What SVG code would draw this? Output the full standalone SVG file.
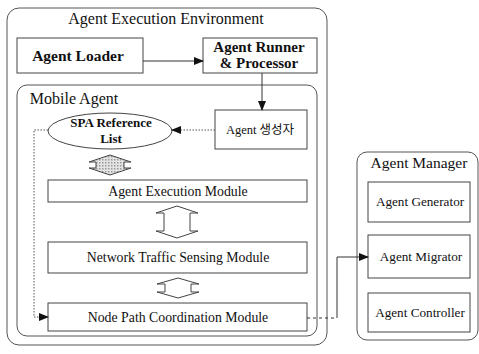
<svg xmlns="http://www.w3.org/2000/svg" width="479" height="354" viewBox="0 0 479 354">
<defs>
<style>
.box{fill:#fff;stroke:#444;stroke-width:1}
.cont{fill:none;stroke:#555;stroke-width:1}
.t{font-family:"Liberation Serif","Times New Roman","Noto Sans CJK KR",serif;fill:#111;text-anchor:middle}
.big{font-size:16px}
.b{font-weight:bold}
.mid{font-size:13.8px}
.sm{font-size:13.2px}
.ln{fill:none;stroke:#333;stroke-width:1}
.dot{fill:none;stroke:#555;stroke-width:1;stroke-dasharray:1.5 1.5}
.dash{fill:none;stroke:#333;stroke-width:1;stroke-dasharray:3 3}
.dbl{stroke:#444;stroke-width:1}
</style>
<marker id="ah" markerWidth="10" markerHeight="8" refX="9" refY="4" orient="auto" markerUnits="userSpaceOnUse">
<path d="M0,0 L10,4 L0,8 Z" fill="#111"/>
</marker>
<pattern id="dots" width="3" height="3" patternUnits="userSpaceOnUse">
<rect width="3" height="3" fill="#e4e4e4"/>
<rect width="1.5" height="1.5" fill="#999"/>
</pattern>
</defs>

<g id="env">
<rect class="cont" x="7" y="8" width="320" height="337" rx="12"/>
<text class="t big" x="166" y="24">Agent Execution Environment</text>
</g>

<g id="agent-loader">
<rect class="box" x="17" y="38" width="126" height="35"/>
<text class="t b" style="font-size:15.5px" x="78" y="61">Agent Loader</text>
</g>

<g id="agent-runner">
<rect class="box" x="203" y="38" width="114" height="35"/>
<text class="t b" style="font-size:15px" x="259" y="52">Agent Runner</text>
<text class="t b" style="font-size:15px" x="259" y="68">&amp; Processor</text>
</g>

<g id="mobile-agent">
<rect class="cont" x="17" y="85" width="300" height="251" rx="10"/>
<text class="t big" x="74" y="104">Mobile Agent</text>
</g>

<g id="agent-creator">
<rect class="box" x="215" y="110" width="92" height="39"/>
<text class="t" style="font-size:12.5px" x="260" y="134">Agent 생성자</text>
</g>

<g id="spa-list">
<ellipse class="box" cx="110" cy="131" rx="62" ry="18"/>
<text class="t b" style="font-size:13px" x="111" y="127">SPA Reference</text>
<text class="t b" style="font-size:13px" x="111" y="143">List</text>
</g>

<g id="exec-module">
<rect class="box" x="48" y="180" width="259" height="22"/>
<text class="t mid" x="178" y="196">Agent Execution Module</text>
</g>

<g id="traffic-module">
<rect class="box" x="48" y="242" width="259" height="31"/>
<text class="t mid" x="178" y="262">Network Traffic Sensing Module</text>
</g>

<g id="path-module">
<rect class="box" x="48" y="303" width="259" height="28"/>
<text class="t mid" x="178" y="322">Node Path Coordination Module</text>
</g>

<g id="agent-manager">
<rect class="cont" x="357" y="152" width="121" height="188" rx="10"/>
<text class="t" style="font-size:15.5px" x="419" y="168">Agent Manager</text>
</g>

<g id="agent-generator">
<rect class="box" x="368" y="182" width="102" height="40"/>
<text class="t sm" x="420" y="206">Agent Generator</text>
</g>

<g id="agent-migrator">
<rect class="box" x="368" y="235" width="102" height="43"/>
<text class="t sm" x="421" y="261">Agent Migrator</text>
</g>

<g id="agent-controller">
<rect class="box" x="368" y="293" width="102" height="39"/>
<text class="t sm" x="420" y="317">Agent Controller</text>
</g>

<g id="connectors">
<line class="ln" x1="143" y1="61" x2="203" y2="61" marker-end="url(#ah)"/>
<line class="ln" x1="262" y1="73" x2="262" y2="110" marker-end="url(#ah)"/>
<line class="dot" x1="215" y1="130" x2="172" y2="130" marker-end="url(#ah)"/>
<polyline class="dot" points="48,130 34,130 34,317 48,317" marker-end="url(#ah)"/>
<polyline class="dash" points="307,318 337,318"/>
<polyline class="ln" points="337,318 337,257 368,257" marker-end="url(#ah)"/>
<polygon class="dbl" fill="url(#dots)" points="110,155 131,162 124,162 124,168 131,168 110,175 89,168 96,168 96,162 89,162"/>
<polygon class="dbl" fill="#fff" points="177,206 198,213 190,213 190,231 198,231 177,238 156,231 164,231 164,213 156,213"/>
<polygon class="dbl" fill="#fff" points="178,278 199,284 191,284 191,292 199,292 178,298 157,292 165,292 165,284 157,284"/>
</g>
</svg>
